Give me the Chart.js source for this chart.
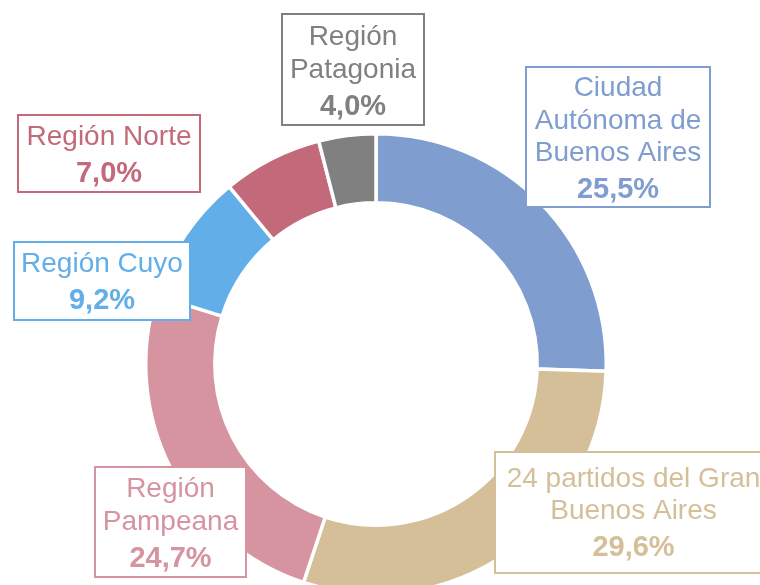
<!DOCTYPE html>
<html>
<head>
<meta charset="utf-8">
<script src="https://cdn.jsdelivr.net/npm/chart.js@4.4.0/dist/chart.umd.min.js"></script>
<style>
  html, body { margin: 0; padding: 0; background: #fff; overflow: hidden; }
  #wrap { width: 760px; height: 600px; }
</style>
</head>
<body>
<div id="wrap"><canvas id="regionChart"></canvas></div>
<script>
// Data
const regionLabels = [
    ['Ciudad', 'Autónoma de', 'Buenos Aires'],
    ['24 partidos del Gran', 'Buenos Aires'],
    ['Región', 'Pampeana'],
    ['Región Cuyo'],
    ['Región Norte'],
    ['Región', 'Patagonia']
];
const regionValues = [25.5, 29.6, 24.7, 9.2, 7.0, 4.0];
const regionColors = ['#7f9dce', '#d4bf99', '#d5949f', '#62aee8', '#c26a7a', '#808080'];

// Label boxes (left, top, right, bottom, first baseline, line gap)
const labelBoxes = [
    { x1: 526, y1: 67, x2: 710, y2: 207, base: 96, gap: 32.5 },
    { x1: 495, y1: 452, x2: 772, y2: 573, base: 487, gap: 32 },
    { x1: 95, y1: 467, x2: 246, y2: 577, base: 497, gap: 32.5 },
    { x1: 14, y1: 242, x2: 190, y2: 320, base: 272, gap: 36.5 },
    { x1: 18, y1: 115, x2: 200, y2: 192, base: 145, gap: 36.5 },
    { x1: 282, y1: 14, x2: 424, y2: 125, base: 45, gap: 33 }
];

function formatPct(v) {
    return v.toFixed(1).replace('.', ',') + '%';
}

const boxLabelPlugin = {
    id: 'boxLabels',
    afterDatasetsDraw(chart) {
        const ctx = chart.ctx;
        ctx.save();
        labelBoxes.forEach((b, i) => {
            const color = regionColors[i];
            ctx.fillStyle = '#ffffff';
            ctx.fillRect(b.x1, b.y1, b.x2 - b.x1, b.y2 - b.y1);
            ctx.strokeStyle = color;
            ctx.lineWidth = 2;
            ctx.strokeRect(b.x1, b.y1, b.x2 - b.x1, b.y2 - b.y1);

            const cx = (b.x1 + b.x2) / 2;
            ctx.fillStyle = color;
            ctx.textAlign = 'center';
            ctx.textBaseline = 'alphabetic';
            ctx.font = '28px "Liberation Sans", Arial, sans-serif';
            let y = b.base;
            regionLabels[i].forEach(line => {
                ctx.fillText(line, cx, y);
                y += b.gap;
            });
            // percent line sits a bit lower than the text lines
            y = b.base + b.gap * (regionLabels[i].length - 1) + 37;
            ctx.font = 'bold 29px "Liberation Sans", Arial, sans-serif';
            ctx.fillText(formatPct(regionValues[i]), cx, y);
        });
        ctx.restore();
    }
};

const ctx = document.getElementById('regionChart').getContext('2d');
new Chart(ctx, {
    type: 'doughnut',
    data: {
        labels: regionLabels.map(l => l.join(' ')),
        datasets: [{
            data: regionValues,
            backgroundColor: regionColors,
            borderColor: '#ffffff',
            borderWidth: 3.5
        }]
    },
    options: {
        responsive: true,
        maintainAspectRatio: false,
        animation: false,
        cutout: '70%',
        layout: {
            padding: { left: 144, right: 152, top: 132, bottom: 4 }
        },
        plugins: {
            legend: { display: false },
            tooltip: { enabled: false }
        }
    },
    plugins: [boxLabelPlugin]
});
</script>
</body>
</html>
